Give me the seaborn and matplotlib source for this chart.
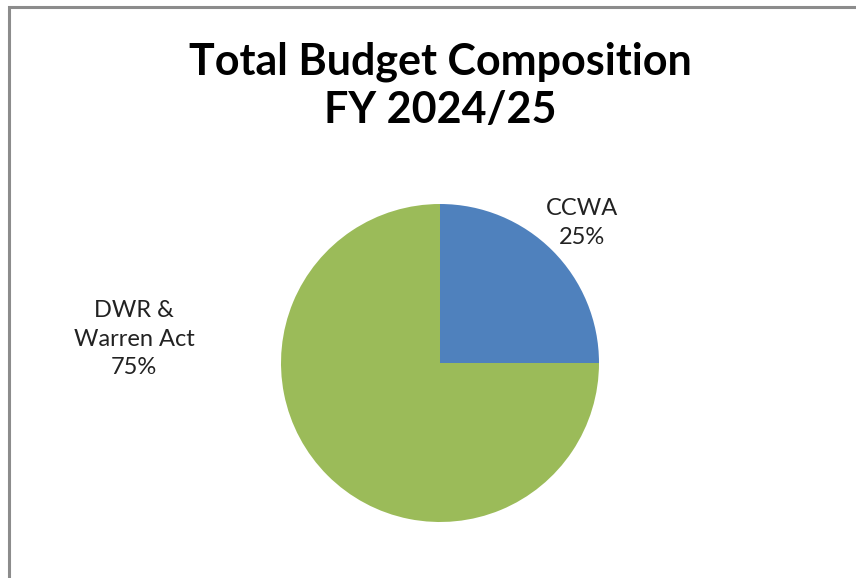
import matplotlib
matplotlib.use("Agg")
import matplotlib.pyplot as plt
import seaborn as sns

# data
labels = ["CCWA", "DWR &\nWarren Act"]
shares = [25, 75]
colors = ["#4F81BD", "#9BBB59"]
title_lines = ["Total Budget Composition", "FY 2024/25"]

sns.set_theme(style="white")
plt.rcParams['font.family'] = ['Lato', 'DejaVu Sans']

W, H = 856, 578
fig = plt.figure(figsize=(W / 100, H / 100), dpi=100)
ax = fig.add_axes([0, 0, 1, 1])

# chart frame
ax.plot([9.5, 9.5, W + 5], [-5, H - 6.5, H - 6.5], color='#8c8c8c', lw=2.2,
        solid_joinstyle='miter')

cx, cy, r = 440, H - 363, 159
wedges, _ = ax.pie(shares, colors=colors, startangle=90, counterclock=False,
                   center=(cx, cy), radius=r, frame=True,
                   wedgeprops=dict(linewidth=0))
ax.set_xlim(0, W)
ax.set_ylim(0, H)
ax.set_aspect('equal')
ax.axis('off')

# data labels as Excel placed them
ax.text(582, H - 223, f"{labels[0]}\n{shares[0]}%", ha='center', va='center',
        fontsize=17, color='#222222', linespacing=1.45)
ax.text(134, H - 339, f"{labels[1]}\n{shares[1]}%", ha='center', va='center',
        fontsize=17, color='#222222', linespacing=1.45)

ax.text(440, H - 86, "\n".join(title_lines), ha='center', va='center',
        fontsize=31, fontweight='bold', color='black', linespacing=1.25)

fig.savefig("out.png", dpi=100)
